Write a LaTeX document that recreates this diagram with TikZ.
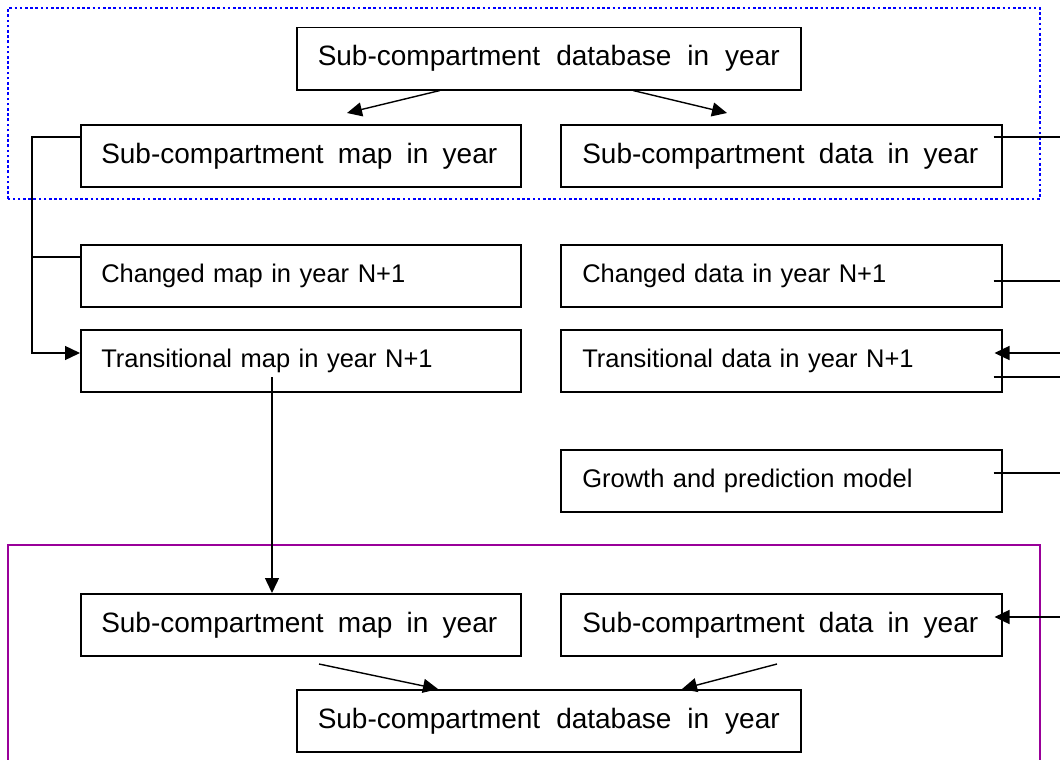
\documentclass[tikz,border=0pt]{standalone}
\usepackage{fontspec}
\setmainfont{Liberation Sans}
\usetikzlibrary{arrows.meta}
\newcommand{\spreadtext}[2]{\hbox to #1{#2}}
\begin{document}
\begin{tikzpicture}[x=1pt,y=-1pt,
  box/.style={draw,line width=1.5pt,anchor=north west,inner ysep=0pt,
    minimum height=62pt,align=left,text height=18.5pt,text depth=5pt,
    font=\fontsize{25.5}{30}\selectfont},
  big/.style={text height=20pt,text depth=5.5pt,font=\fontsize{28}{33}\selectfont},
  lbox/.style={box,inner xsep=20.5pt,text width=399pt},
  rbox/.style={box,inner xsep=21.5pt,text width=398pt},
  cbox/.style={box,big,inner xsep=21pt,text width=462pt},
  conn/.style={line width=1.4pt},
  arr/.style={conn,-{Triangle[length=15pt,width=14pt]}},
  bluegroup/.style={draw=blue,line width=2.6pt,dash pattern=on 2.6pt off 2.6pt},
  purplegroup/.style={draw={rgb,255:red,153;green,0;blue,153},line width=1.6pt}]
\useasboundingbox (0,0) rectangle (1060,760);
\fill[white] (0,0) rectangle (1060,760);

% group frames
\draw[bluegroup] (8,199) -- (8,8) -- (1040,8) -- (1040,199) -- cycle;
\draw[purplegroup] (8,770) -- (8,545) -- (1040,545) -- (1040,770);

% nodes
\node[cbox] (db1) at (296,27) {\spreadtext{462pt}{Sub-compartment\hfill database\hfill in\hfill year}};
\node[lbox,big] (map1) at (80,124) {\spreadtext{396pt}{Sub-compartment\hfill map\hfill in\hfill year}};
\node[rbox,big] (dat1) at (560,124) {\spreadtext{396pt}{Sub-compartment\hfill data\hfill in\hfill year}};
\node[lbox] (cmap) at (80,244) {Changed map in year N+1};
\node[rbox] (cdat) at (560,244) {Changed data in year N+1};
\node[lbox] (tmap) at (80,329) {Transitional map in year N+1};
\node[rbox] (tdat) at (560,329) {Transitional data in year N+1};
\node[rbox] (grow) at (560,449) {Growth and prediction model};
\node[lbox,big] (map2) at (80,593) {\spreadtext{396pt}{Sub-compartment\hfill map\hfill in\hfill year}};
\node[rbox,big] (dat2) at (560,593) {\spreadtext{396pt}{Sub-compartment\hfill data\hfill in\hfill year}};
\node[cbox] (db2) at (296,689) {\spreadtext{462pt}{Sub-compartment\hfill database\hfill in\hfill year}};

% free ends
\coordinate (t1) at (347,113);
\coordinate (t2) at (727,113);
\coordinate (b1) at (319,664);
\coordinate (b2) at (777,664);
\coordinate (lx) at (32,0);
\coordinate (e1) at (1062,137);
\coordinate (e2) at (1062,281);
\coordinate (e3) at (1062,353);
\coordinate (e4) at (1062,377);
\coordinate (e5) at (1062,473);
\coordinate (e6) at (1062,617);

% connectors
\draw[arr] ([xshift=144pt]db1.south west) -- (t1);
\draw[arr] ([xshift=337pt]db1.south west) -- (t2);
\draw[arr] ([yshift=-13pt]map1.north west) -| ([yshift=-24pt]lx |- tmap.north west) -- ([yshift=-24pt]tmap.north west);
\draw[conn] ([yshift=-13pt]cmap.north west) -- ([yshift=-13pt]lx |- cmap.north west);
\draw[arr] ([xshift=192pt,yshift=-48pt]tmap.north west) -- ([xshift=192pt]map2.north west);
\draw[conn] ([xshift=-9pt]dat1.east |- e1) -- (e1);
\draw[conn] ([xshift=-9pt]cdat.east |- e2) -- (e2);
\draw[arr] (e3) -- ([xshift=-8pt]tdat.east |- e3);
\draw[conn] ([xshift=-9pt]tdat.east |- e4) -- (e4);
\draw[conn] ([xshift=-9pt]grow.east |- e5) -- (e5);
\draw[arr] (e6) -- ([xshift=-8pt]dat2.east |- e6);
\draw[arr] (b1) -- ([xshift=142pt]db2.north west);
\draw[arr] (b2) -- ([xshift=386pt]db2.north west);
\end{tikzpicture}
\end{document}
